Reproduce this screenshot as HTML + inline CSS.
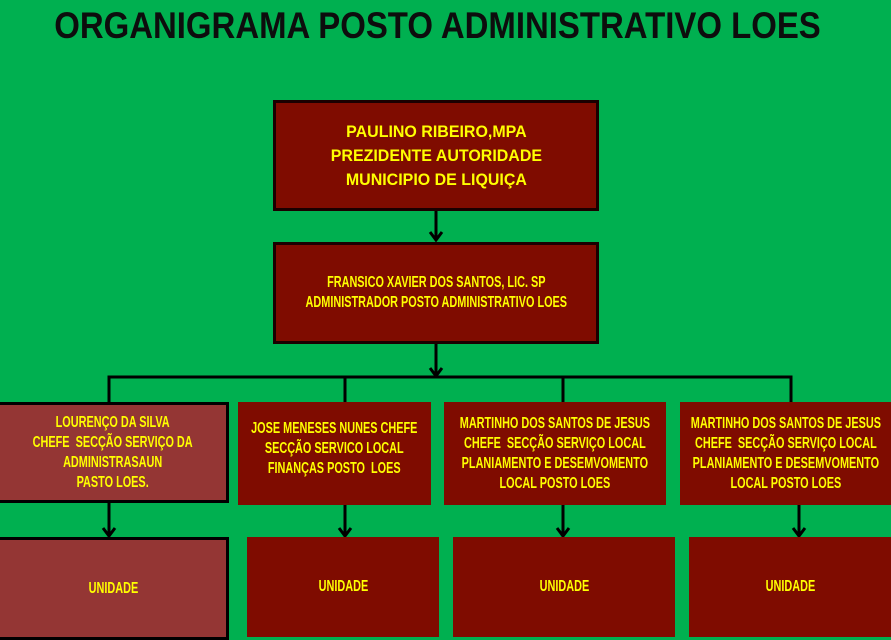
<!DOCTYPE html>
<html><head><meta charset="utf-8"><style>
body{margin:0;width:891px;height:637px;overflow:hidden;background:#00b050;position:relative;font-family:"Liberation Sans",sans-serif;}
.t{position:absolute;left:-8px;top:5px;width:891px;text-align:center;font:bold 37px "Liberation Sans",sans-serif;color:#0d0d0d;transform:scaleX(0.89);white-space:nowrap}
.b{position:absolute;background:#7f0c00;color:#ffff00;font-weight:bold;display:flex;align-items:center;justify-content:center;text-align:center;box-sizing:border-box;font-size:16px;line-height:20px;}
.b span{display:inline-block;white-space:nowrap;transform:scaleX(0.68);}
.bd{border:3px solid #1a0000;}
.l{background:#943634;border:3px solid #000;}
svg{position:absolute;left:0;top:0}
</style></head><body>
<div class="t">ORGANIGRAMA POSTO ADMINISTRATIVO LOES</div>
<svg width="891" height="637">
<g stroke="#000" stroke-width="3" fill="none">
<line x1="436" y1="210" x2="436" y2="240"/><polyline points="430,232 436,240 442,232"/>
<line x1="436" y1="343" x2="436" y2="376"/><polyline points="430,368 436,376 442,368"/>
<polyline points="109,402 109,377 791,377 791,402"/>
<line x1="345" y1="377" x2="345" y2="402"/><line x1="563" y1="377" x2="563" y2="402"/>
<line x1="109" y1="502" x2="109" y2="536"/><polyline points="103,528 109,536 115,528"/>
<line x1="345" y1="505" x2="345" y2="536"/><polyline points="339,528 345,536 351,528"/>
<line x1="563" y1="505" x2="563" y2="536"/><polyline points="557,528 563,536 569,528"/>
<line x1="799" y1="505" x2="799" y2="536"/><polyline points="793,528 799,536 805,528"/>
</g></svg>
<div class="b bd" style="left:273px;top:100px;width:326px;height:111px;font-size:17px;line-height:24px;"><span style="transform:scaleX(0.94)">PAULINO RIBEIRO,MPA<br>PREZIDENTE AUTORIDADE<br>MUNICIPIO DE LIQUIÇA</span></div>
<div class="b bd" style="left:273px;top:242px;width:326px;height:102px;"><span>FRANSICO XAVIER DOS SANTOS, LIC. SP<br>ADMINISTRADOR POSTO ADMINISTRATIVO LOES</span></div>
<div class="b l" style="left:-3px;top:402px;width:232px;height:101px;"><span>LOURENÇO DA SILVA<br>CHEFE&nbsp; SECÇÃO SERVIÇO DA<br>ADMINISTRASAUN<br>PASTO LOES.</span></div>
<div class="b" style="left:238px;top:402px;width:193px;height:103px;padding-bottom:10px"><span>JOSE MENESES NUNES CHEFE<br>SECÇÃO SERVICO LOCAL<br>FINANÇAS POSTO&nbsp; LOES</span></div>
<div class="b" style="left:444px;top:402px;width:222px;height:103px;"><span>MARTINHO DOS SANTOS DE JESUS<br>CHEFE&nbsp; SECÇÃO SERVIÇO LOCAL<br>PLANIAMENTO E DESEMVOMENTO<br>LOCAL POSTO LOES</span></div>
<div class="b" style="left:680px;top:402px;width:211px;height:103px;"><span>MARTINHO DOS SANTOS DE JESUS<br>CHEFE&nbsp; SECÇÃO SERVIÇO LOCAL<br>PLANIAMENTO E DESEMVOMENTO<br>LOCAL POSTO LOES</span></div>
<div class="b l" style="left:-3px;top:537px;width:232px;height:103px;"><span>UNIDADE</span></div>
<div class="b" style="left:247px;top:537px;width:192px;height:100px;"><span>UNIDADE</span></div>
<div class="b" style="left:453px;top:537px;width:222px;height:100px;"><span>UNIDADE</span></div>
<div class="b" style="left:689px;top:537px;width:202px;height:100px;"><span>UNIDADE</span></div>
</body></html>
